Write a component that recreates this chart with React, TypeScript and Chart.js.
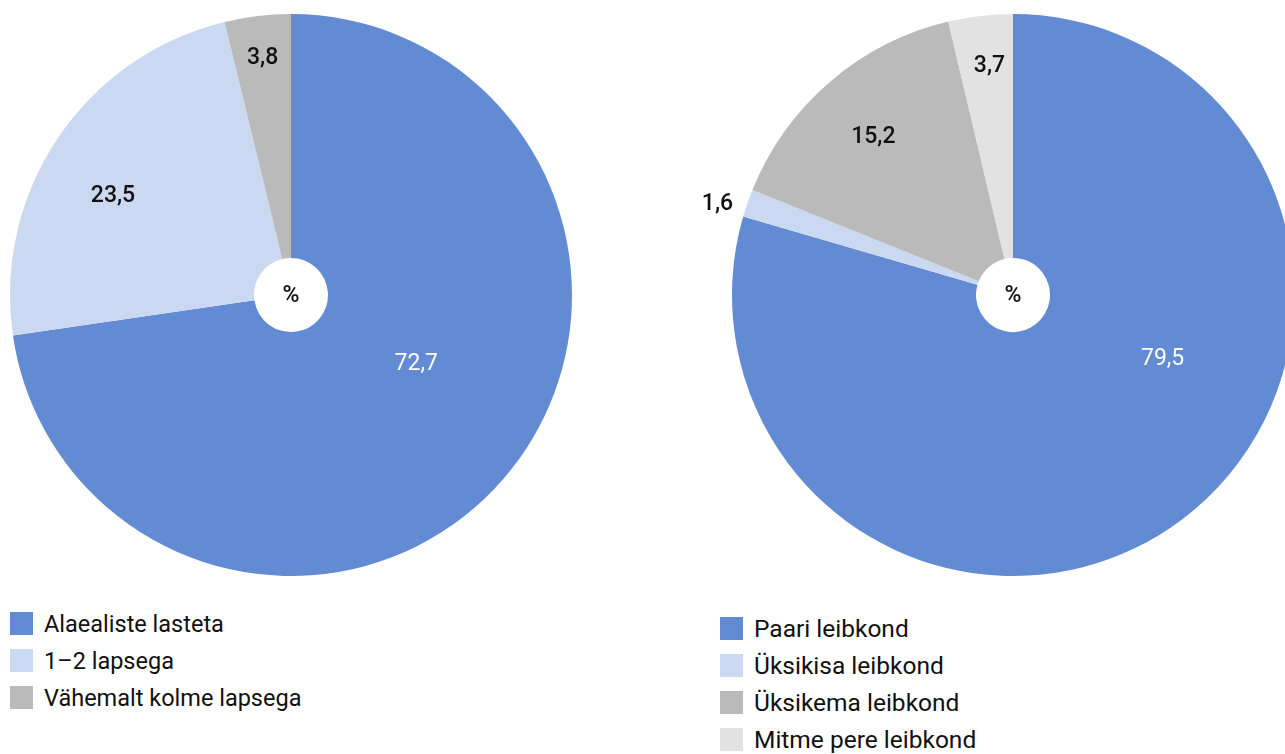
import React, { useEffect, useRef } from "react";
import { Chart, registerables } from "chart.js";

Chart.register(...registerables);

const leftCategories = ["Alaealiste lasteta", "1–2 lapsega", "Vähemalt kolme lapsega"];
const leftValues = [72.7, 23.5, 3.8];
const leftColors = ["#628bd4", "#cbd8f1", "#b9bab9"];

const rightCategories = ["Paari leibkond", "Üksikisa leibkond", "Üksikema leibkond", "Mitme pere leibkond"];
const rightValues = [79.5, 1.6, 15.2, 3.7];
const rightColors = ["#628bd4", "#cbd8f1", "#b9bab9", "#e1e2e1"];

// label placement: fraction along the arc angle, fraction of radius
const leftLabelPlacement = [
  { t: 0.455, r: 0.51, color: "#ffffff", weight: "400" },
  { t: 0.442, r: 0.725, color: "#111111", weight: "500" },
  { t: 0.5, r: 0.85, color: "#111111", weight: "500" },
];
const rightLabelPlacement = [
  { t: 0.396, r: 0.58, color: "#ffffff", weight: "400" },
  { t: 0.15, r: 1.1, color: "#111111", weight: "500" },
  { t: 0.485, r: 0.75, color: "#111111", weight: "500" },
  { t: 0.56, r: 0.82, color: "#111111", weight: "500" },
];

const fmt = (v: number) => v.toFixed(1).replace(".", ",");

const labelPlugin = {
  id: "sliceLabels",
  afterDraw(chart: any) {
    const placement = chart.options.plugins.sliceLabels.placement;
    const ctx = chart.ctx;
    const meta = chart.getDatasetMeta(0);
    const values = chart.data.datasets[0].data;
    ctx.save();
    ctx.textAlign = "center";
    ctx.textBaseline = "middle";
    meta.data.forEach((arc: any, i: number) => {
      const p = placement[i];
      const { x, y, startAngle, endAngle, outerRadius } = arc.getProps(
        ["x", "y", "startAngle", "endAngle", "outerRadius"],
        true
      );
      const a = startAngle + p.t * (endAngle - startAngle);
      const rr = p.r * outerRadius;
      ctx.fillStyle = p.color;
      ctx.font = `${p.weight} 23px Roboto`;
      ctx.fillText(fmt(values[i]), x + Math.cos(a) * rr, y + Math.sin(a) * rr);
    });
    // center percent sign
    const a0 = meta.data[0];
    ctx.fillStyle = "#111111";
    ctx.font = "500 23px Roboto";
    ctx.fillText("%", a0.x, a0.y + 1);
    ctx.restore();
  },
};

function PieChart(props: {
  labels: string[];
  values: number[];
  colors: string[];
  placement: any[];
  padding: { left: number; right: number; top: number; bottom: number };
  width: number;
  height: number;
}) {
  const ref = useRef<HTMLCanvasElement>(null);
  useEffect(() => {
    if (!ref.current) return;
    const chart = new Chart(ref.current, {
      type: "doughnut",
      data: {
        labels: props.labels,
        datasets: [
          {
            data: props.values,
            backgroundColor: props.colors,
            borderWidth: 0,
          },
        ],
      },
      options: {
        animation: false,
        responsive: false,
        cutout: 37,
        layout: { padding: props.padding },
        plugins: {
          legend: { display: false },
          tooltip: { enabled: false },
          sliceLabels: { placement: props.placement },
        } as any,
      },
      plugins: [labelPlugin],
    });
    return () => chart.destroy();
  }, []);
  return <canvas ref={ref} width={props.width} height={props.height} style={{ width: props.width, height: props.height }} />;
}

function Legend(props: { labels: string[]; colors: string[]; fontSize: number; rowHeight: number }) {
  return (
    <div>
      {props.labels.map((l, i) => (
        <div key={l} style={{ display: "flex", alignItems: "center", height: props.rowHeight }}>
          <div style={{ width: 23, height: 23, background: props.colors[i], marginRight: 11, flexShrink: 0 }} />
          <span style={{ fontFamily: "Roboto", fontSize: props.fontSize, color: "#111", whiteSpace: "nowrap" }}>{l}</span>
        </div>
      ))}
    </div>
  );
}

export default function App() {
  return (
    <div style={{ position: "fixed", left: 0, top: 0, width: 1285, height: 754, overflow: "hidden", background: "#fff" }}>
      <div style={{ position: "absolute", left: 0, top: 0 }}>
        <PieChart
          labels={leftCategories}
          values={leftValues}
          colors={leftColors}
          placement={leftLabelPlacement}
          padding={{ left: 10, right: 28, top: 14, bottom: 24 }}
          width={600}
          height={600}
        />
      </div>
      <div style={{ position: "absolute", left: 700, top: 0 }}>
        <PieChart
          labels={rightCategories}
          values={rightValues}
          colors={rightColors}
          placement={rightLabelPlacement}
          padding={{ left: 32, right: 26, top: 14, bottom: 24 }}
          width={620}
          height={600}
        />
      </div>
      <div style={{ position: "absolute", left: 10, top: 605 }}>
        <Legend labels={leftCategories} colors={leftColors} fontSize={23.5} rowHeight={37} />
      </div>
      <div style={{ position: "absolute", left: 720, top: 610 }}>
        <Legend labels={rightCategories} colors={rightColors} fontSize={24.5} rowHeight={37} />
      </div>
    </div>
  );
}
